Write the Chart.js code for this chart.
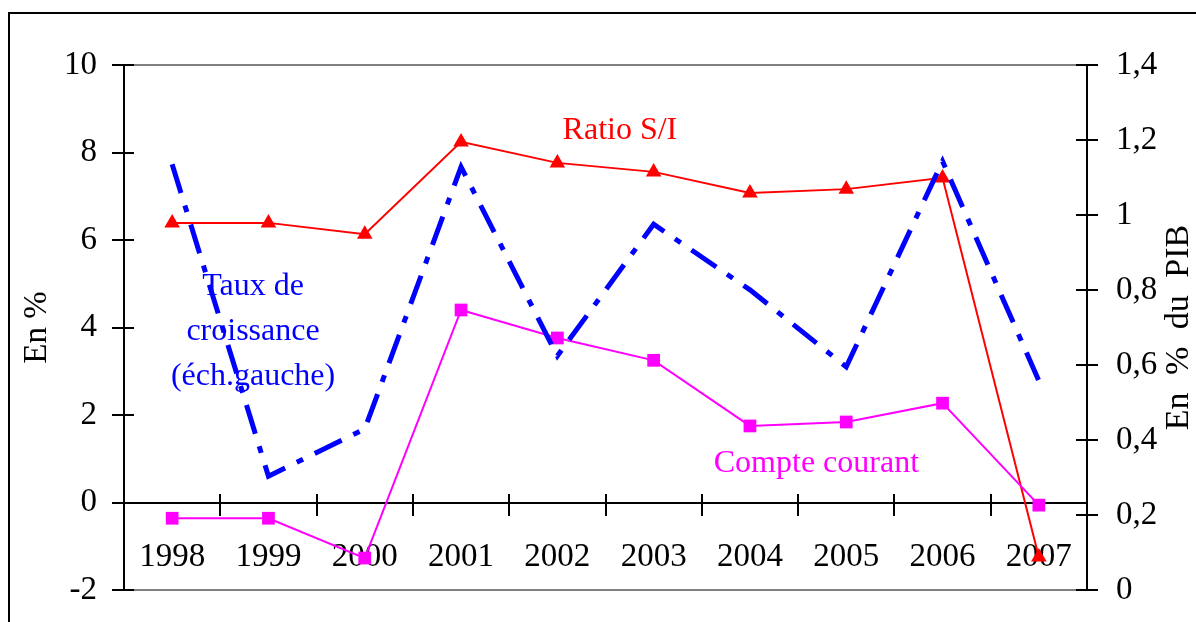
<!DOCTYPE html>
<html>
<head>
<meta charset="utf-8">
<script src="https://cdn.jsdelivr.net/npm/chart.js@4.4.0/dist/chart.umd.min.js"></script>
<style>
  body { margin: 0; overflow: hidden; background: #fff; }
  #frame { position: absolute; left: 8px; top: 12px; width: 1300px; height: 800px; border: 2px solid #000; }
  #wrap { position: absolute; left: 0; top: 0; width: 1196px; height: 622px; }
</style>
</head>
<body>
<div id="frame"></div>
<div id="wrap"><canvas id="chart"></canvas></div>
<script>
// Data
const years = ['1998', '1999', '2000', '2001', '2002', '2003', '2004', '2005', '2006', '2007'];
const croissance = [7.73, 0.6, 1.68, 7.67, 3.35, 6.36, 4.86, 3.1, 7.8, 2.78];       // left axis
const compteCourant = [-0.36, -0.36, -1.27, 4.4, 3.76, 3.25, 1.75, 1.84, 2.27, -0.06]; // left axis
const ratioSI = [0.979, 0.979, 0.949, 1.195, 1.139, 1.115, 1.059, 1.069, 1.099, 0.088]; // right axis
const leftTicks = ['-2', '0', '2', '4', '6', '8', '10'];
const rightTicks = ['0', '0,2', '0,4', '0,6', '0,8', '1', '1,2', '1,4'];

const FONT = 'Liberation Serif, Times New Roman, serif';

// ::::: tick marks crossing the axes (Excel style) :::::
const crossTicks = {
  id: 'crossTicks',
  beforeDatasetsDraw(chart) {
    const ctx = chart.ctx;
    const x = chart.scales.x, yL = chart.scales.y, yR = chart.scales.y1;
    ctx.save();
    ctx.strokeStyle = '#000';
    ctx.lineWidth = 2;
    ctx.beginPath();
    yL.ticks.forEach(t => {
      const py = Math.round(yL.getPixelForValue(t.value));
      ctx.moveTo(yL.right - 12, py);
      ctx.lineTo(yL.right + 10, py);
    });
    yR.ticks.forEach(t => {
      const py = Math.round(yR.getPixelForValue(t.value));
      ctx.moveTo(yR.left - 11, py);
      ctx.lineTo(yR.left + 11, py);
    });
    const y0 = Math.round(yL.getPixelForValue(0));
    for (let i = 1; i < years.length; i++) {
      const px = Math.round(x.getPixelForValue(i - 0.5));
      ctx.moveTo(px, y0 - 9);
      ctx.lineTo(px, y0 + 13);
    }
    ctx.stroke();
    ctx.restore();
  }
};

// ::::: series labels + right axis title :::::
const notes = {
  id: 'notes',
  beforeDatasetsDraw(chart) {
    const ctx = chart.ctx;
    const x = chart.scales.x, y = chart.scales.y;
    ctx.save();
    ctx.font = '32px ' + FONT;
    ctx.textAlign = 'center';
    ctx.textBaseline = 'middle';

    ctx.fillStyle = '#FF0000';
    ctx.fillText('Ratio S/I', x.getPixelForValue(4.65), y.getPixelForValue(8.5));

    ctx.fillStyle = '#FF00FF';
    ctx.fillText('Compte courant', x.getPixelForValue(6.69), y.getPixelForValue(0.88));

    ctx.fillStyle = '#0000FF';
    const tx = x.getPixelForValue(0.84);
    const ty = y.getPixelForValue(3.9);
    ctx.fillText('Taux de', tx, ty - 45);
    ctx.fillText('croissance', tx, ty);
    ctx.fillText('(éch.gauche)', tx, ty + 45);

    // right title reads bottom-to-top
    ctx.fillStyle = '#000';
    ctx.font = '34px ' + FONT;
    ctx.wordSpacing = '9px';
    ctx.translate(1179, (chart.chartArea.top + chart.chartArea.bottom) / 2);
    ctx.rotate(-Math.PI / 2);
    ctx.fillText('En % du PIB', 0, 0);
    ctx.restore();
  }
};

function noLabelPadding(scale) {
  scale.paddingTop = 0;
  scale.paddingBottom = 0;
}

new Chart(document.getElementById('chart'), {
  type: 'line',
  data: {
    labels: years,
    datasets: [{
      label: 'Taux de croissance',
      data: croissance,
      yAxisID: 'y',
      borderColor: '#0000FF',
      borderWidth: 5,
      borderDash: [30, 13, 7, 13],
      borderCapStyle: 'butt',
      pointRadius: 0,
      tension: 0,
      order: 0
    }, {
      label: 'Compte courant',
      data: compteCourant,
      yAxisID: 'y',
      borderColor: '#FF00FF',
      borderWidth: 2,
      pointStyle: 'rect',
      pointRadius: 9,
      pointBackgroundColor: '#FF00FF',
      pointBorderWidth: 0,
      tension: 0,
      order: 1
    }, {
      label: 'Ratio S/I',
      data: ratioSI,
      yAxisID: 'y1',
      borderColor: '#FF0000',
      borderWidth: 2,
      pointStyle: 'triangle',
      pointRadius: 9,
      pointBackgroundColor: '#FF0000',
      pointBorderWidth: 0,
      tension: 0,
      order: 2
    }]
  },
  options: {
    responsive: true,
    maintainAspectRatio: false,
    animation: false,
    layout: { padding: { top: 65, bottom: 32, left: 0, right: 0 } },
    plugins: {
      legend: { display: false },
      tooltip: { enabled: false }
    },
    scales: {
      x: {
        position: { y: 0 },
        offset: true,
        afterFit(scale) { scale.height = 0; scale.paddingLeft = 0; scale.paddingRight = 0; },
        grid: { drawOnChartArea: false, drawTicks: false, color: 'transparent' },
        border: { display: true, color: '#000', width: 2 },
        ticks: {
          autoSkip: false,
          maxRotation: 0,
          padding: 35,
          color: '#000',
          font: { family: FONT, size: 33 }
        }
      },
      y: {
        position: 'left',
        min: -2,
        max: 10,
        afterFit(scale) { scale.width = 124; noLabelPadding(scale); },
        grid: {
          drawTicks: false,
          lineWidth: 2,
          color: ctx => (ctx.tick && (ctx.tick.value === 10 || ctx.tick.value === -2)) ? '#808080' : 'transparent'
        },
        border: { display: true, color: '#000', width: 2 },
        ticks: {
          stepSize: 2,
          padding: 27,
          color: '#000',
          font: { family: FONT, size: 33 },
          callback: (v, i) => leftTicks[i]
        },
        title: {
          display: true,
          text: 'En %',
          color: '#000',
          font: { family: FONT, size: 33, lineHeight: 1 },
          padding: { top: 21, bottom: 0 }
        }
      },
      y1: {
        position: 'right',
        min: 0,
        max: 1.4,
        afterFit(scale) { scale.width = 109; noLabelPadding(scale); },
        grid: { drawOnChartArea: false, drawTicks: false },
        border: { display: true, color: '#000', width: 2 },
        ticks: {
          stepSize: 0.2,
          padding: 29,
          color: '#000',
          font: { family: FONT, size: 33 },
          callback: (v, i) => rightTicks[i]
        }
      }
    }
  },
  plugins: [crossTicks, notes]
});
</script>
</body>
</html>
